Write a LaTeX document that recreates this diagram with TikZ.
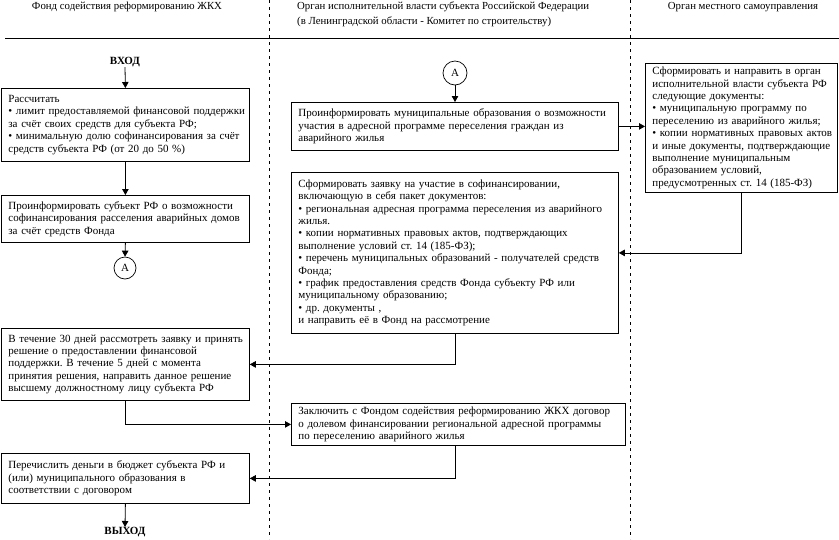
\documentclass[tikz,border=0pt]{standalone}
\usepackage{fontspec}
\setmainfont{Liberation Serif}
\usetikzlibrary{arrows.meta}
\newcommand\myl[1]{\mbox{#1}}
\frenchspacing
\begin{document}
\begin{tikzpicture}[x=1pt,y=-1pt,
  every node/.style={font=\fontsize{11}{12.4}\selectfont},
  box/.style={draw,line width=0.8pt,rectangle,anchor=north west,align=left,inner xsep=7pt,inner ysep=0pt},
  conn/.style={line width=0.8pt},
  arr/.style={line width=0.8pt,-{Triangle[length=6pt,width=6.5pt]}},
  lane/.style={line width=0.7pt,dash pattern=on 3pt off 4pt},
  circ/.style={draw,circle,line width=0.7pt,inner sep=0pt,minimum size=22pt},
  hdr/.style={inner sep=0pt,align=left,font=\fontsize{10.8}{14.8}\selectfont},
  term/.style={inner sep=0pt,font=\fontsize{11}{12.4}\selectfont\bfseries}]
\useasboundingbox (0,0) rectangle (839,539);
% headers
\node[hdr,anchor=center] (h1) at (127,7) {Фонд содействия реформированию ЖКХ};
\node[hdr,anchor=north west] (h2) at (297,2) {Орган исполнительной власти субъекта Российской Федерации\\(в Ленинградской области - Комитет по строительству)};
\node[hdr,anchor=center] (h3) at (743,7) {Орган местного самоуправления};
\coordinate (hl) at (5,38);
\coordinate (hr) at (839,38);
\draw[line width=0.8pt] (hl) -- (hr);
\coordinate (d1t) at (269,0); \coordinate (d1b) at (269,539);
\coordinate (d2t) at (630,0); \coordinate (d2b) at (630,539);
\draw[lane] (d1t) -- (d1b);
\draw[lane] (d2t) -- (d2b);
% column 1
\node[term] (vin) at (125,62) {ВХОД};
\node[box,minimum width=248pt,minimum height=73pt,text width=234pt] (b1) at (1,88) {\myl{Рассчитать}\\\myl{• лимит предоставляемой финансовой поддержки}\\\myl{за счёт своих средств для субъекта РФ;}\\\myl{• минимальную долю софинансирования за счёт}\\\myl{средств субъекта РФ (от 20 до 50 \%)}};
\node[box,minimum width=248pt,minimum height=47pt,text width=234pt] (b2) at (1,195) {\myl{Проинформировать субъект РФ о возможности}\\\myl{софинансирования расселения аварийных домов}\\\myl{за счёт средств Фонда}};
\node[circ] (a1) at (125,268) {А};
\node[box,minimum width=248pt,minimum height=72pt,text width=234pt] (b6) at (1,328) {\myl{В течение 30 дней рассмотреть заявку и принять}\\\myl{решение о предоставлении финансовой}\\\myl{поддержки. В течение 5 дней с момента}\\\myl{принятия решения, направить данное решение}\\\myl{высшему должностному лицу субъекта РФ}};
\node[box,minimum width=248pt,minimum height=50pt,text width=234pt] (b8) at (1,453) {\myl{Перечислить деньги в бюджет субъекта РФ и}\\\myl{(или) муниципального образования в}\\\myl{соответствии с договором}};
\node[term] (vout) at (125,532) {ВЫХОД};
% column 2
\node[circ,minimum size=24pt] (a2) at (455,73) {А};
\node[box,minimum width=327pt,minimum height=48pt,text width=313pt] (b3) at (291,102) {\myl{Проинформировать муниципальные образования о возможности}\\\myl{участия в адресной программе переселения граждан из}\\\myl{аварийного жилья}};
\node[box,minimum width=327pt,minimum height=161pt,text width=313pt] (b5) at (291,172) {\myl{Сформировать заявку на участие в софинансировании,}\\\myl{включающую в себя пакет документов:}\\\myl{• региональная адресная программа переселения из аварийного}\\\myl{жилья.}\\\myl{• копии нормативных правовых актов, подтверждающих}\\\myl{выполнение условий ст. 14 (185-ФЗ);}\\\myl{• перечень муниципальных образований - получателей средств}\\\myl{Фонда;}\\\myl{• график предоставления средств Фонда субъекту РФ или}\\\myl{муниципальному образованию;}\\\myl{• др. документы ,}\\\myl{и направить её в Фонд на рассмотрение}};
\node[box,minimum width=334pt,minimum height=42pt,text width=320pt] (b7) at (291,403) {\myl{Заключить с Фондом содействия реформированию ЖКХ договор}\\\myl{о долевом финансировании региональной адресной программы}\\\myl{по переселению аварийного жилья}};
% column 3
\node[box,minimum width=192pt,minimum height=129pt,text width=178pt] (b4) at (645,63) {\myl{Сформировать и направить в орган}\\\myl{исполнительной власти субъекта РФ}\\\myl{следующие документы:}\\\myl{• муниципальную программу по}\\\myl{переселению из аварийного жилья;}\\\myl{• копии нормативных правовых актов}\\\myl{и иные документы, подтверждающие}\\\myl{выполнение муниципальным}\\\myl{образованием условий,}\\\myl{предусмотренных ст. 14 (185-ФЗ)}};
% connectors
\draw[arr] (vin.south) -- (b1.north);
\draw[arr] (b1.south) -- (b2.north);
\draw[arr] (b2.south) -- (a1.north);
\draw[arr] (a2.south) -- (a2 |- b3.north);
\draw[arr] (b3.east) -- (b3.east -| b4.west);
\draw[arr] (b4.south) |- (b5.east);
\draw[arr] (b5.south) |- (b6.east);
\draw[arr] (b6.south) |- (b7.west);
\draw[arr] (b7.south -| b5.south) |- (b8.east);
\draw[arr] (b8.south) -- (vout.north);
\end{tikzpicture}
\end{document}
